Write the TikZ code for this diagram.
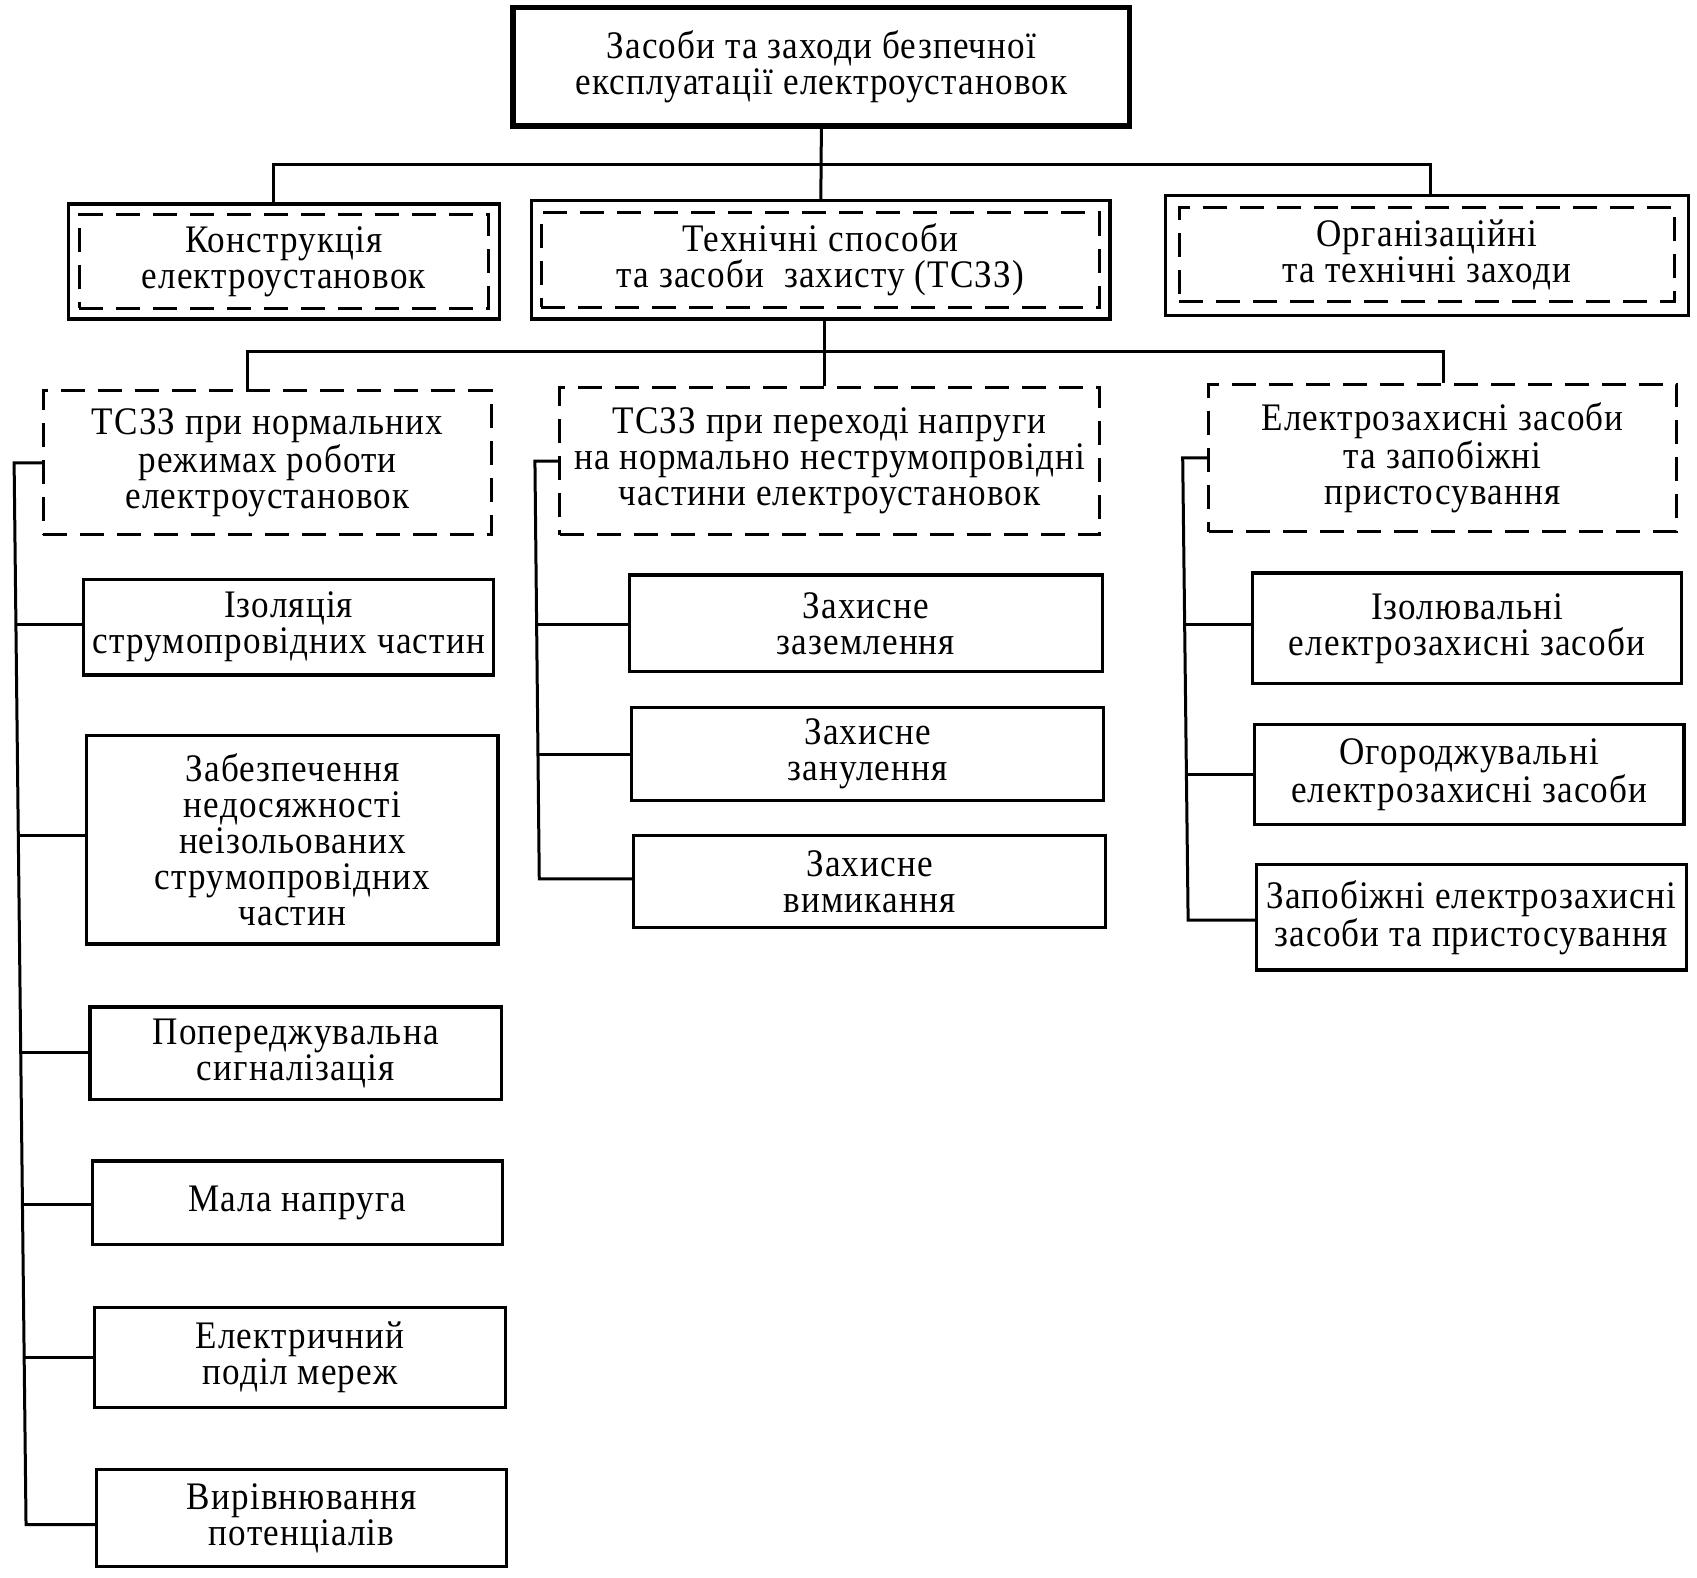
\documentclass[tikz,border=0pt]{standalone}
\usepackage{fontspec}
\setmainfont{Liberation Serif}[LetterSpace=3,FakeStretch=0.9]
\begin{document}
\begin{tikzpicture}[x=0.5425pt,y=-0.5425pt,
  txt/.style={inner sep=0pt, align=center, font=\fontsize{19.5pt}{18pt}\selectfont},
  box/.style={txt, draw, line width=1.6pt},
  topbox/.style={txt, draw, line width=2.8pt},
  dbox/.style={txt, draw, line width=1.5pt, dash pattern=on 12pt off 6.5pt},
  wire/.style={line width=1.5pt}]
\newcommand\bx[7][box]{\node[#1, minimum width={(#5-#3)*0.5425pt}, minimum height={(#6-#4)*0.5425pt}] (#2) at ({(#3+#5)/2},{(#4+#6)/2}) {#7};}
\path[fill=white, use as bounding box] (0,0) rectangle (1564,1454);

% top
\bx[topbox]{top}{473}{7}{1041}{116}{Засоби та заходи безпечної\\експлуатації електроустановок}

% level 2
\bx{A}{63}{188}{460}{294}{}
\bx[dbox]{Ai}{73}{198}{450}{284}{Конструкція\\електроустановок}
\bx{B}{490}{185}{1023}{294}{}
\bx[dbox]{Bi}{499}{196}{1013}{283}{Технічні способи\\та засоби~ захисту (ТСЗЗ)}
\bx{C}{1074}{180}{1556}{291}{}
\bx[dbox]{Ci}{1087}{191}{1543}{278}{Організаційні\\та технічні заходи}

% level 3
\bx[dbox]{D}{40}{360}{453}{493}{ТСЗЗ при нормальних\\режимах роботи\\електроустановок}
\bx[dbox]{E}{516}{357}{1013}{493}{ТСЗЗ при переході напруги\\на нормально неструмопровідні\\частини електроустановок}
\bx[dbox]{F}{1114}{354}{1545}{490}{Електрозахисні засоби\\та запобіжні\\пристосування}

% left column
\bx{l1}{77}{534}{455}{622}{Ізоляція\\струмопровідних частин}
\bx{l2}{80}{678}{459}{870}{Забезпечення\\недосяжності\\неізольованих\\струмопровідних\\частин}
\bx{l3}{83}{928}{462}{1013}{Попереджувальна\\сигналізація}
\bx{l4}{85}{1070}{463}{1147}{Мала напруга}
\bx{l5}{87}{1205}{466}{1297}{Електричний\\поділ мереж}
\bx{l6}{89}{1354}{467}{1444}{Вирівнювання\\потенціалів}

% middle column
\bx{m1}{580}{530}{1016}{619}{Захисне\\заземлення}
\bx{m2}{582}{652}{1017}{738}{Захисне\\занулення}
\bx{m3}{584}{770}{1019}{855}{Захисне\\вимикання}

% right column
\bx{r1}{1154}{528}{1550}{630}{Ізолювальні\\електрозахисні засоби}
\bx{r2}{1156}{668}{1552}{760}{Огороджувальні\\електрозахисні засоби}
\bx{r3}{1158}{797}{1554}{894}{Запобіжні електрозахисні\\засоби та пристосування}

% connectors level 1-2
\coordinate (tA) at (252,152);
\coordinate (tC) at (1318,152);
\draw[wire] (top.south) -- (B.north);
\draw[wire] (tA |- A.north) -- (tA) -- (tC) -- (tC |- C.north);

% connectors level 2-3
\coordinate (bA) at (228,324);
\coordinate (bM) at (760,324);
\coordinate (bC) at (1330,324);
\draw[wire] (bM |- B.south) -- (bM |- E.north);
\draw[wire] (bA |- D.north) -- (bA) -- (bC) -- (bC |- F.north);

% left bus
\coordinate (Lt) at (13,426.5);
\coordinate (L1) at (14.7,576);
\coordinate (L2) at (16.9,770);
\coordinate (L3) at (19.1,970);
\coordinate (L4) at (20.7,1110);
\coordinate (L5) at (22.3,1251);
\coordinate (L6) at (24,1405);
\draw[wire] (D.west) -- (Lt) -- (L6) -- (L6 -| l6.west);
\foreach \i in {1,...,5} \draw[wire] (L\i) -- (L\i -| l\i.west);

% middle bus
\coordinate (Mt) at (493,425);
\coordinate (M1) at (494.5,576);
\coordinate (M2) at (495.8,695);
\coordinate (M3) at (497,810);
\draw[wire] (E.west) -- (Mt) -- (M3) -- (M3 -| m3.west);
\foreach \i in {1,2} \draw[wire] (M\i) -- (M\i -| m\i.west);

% right bus
\coordinate (Rt) at (1090,422);
\coordinate (R1) at (1091.8,576);
\coordinate (R2) at (1093.4,714);
\coordinate (R3) at (1095,848);
\draw[wire] (F.west) -- (Rt) -- (R3) -- (R3 -| r3.west);
\foreach \i in {1,2} \draw[wire] (R\i) -- (R\i -| r\i.west);
\end{tikzpicture}
\end{document}
